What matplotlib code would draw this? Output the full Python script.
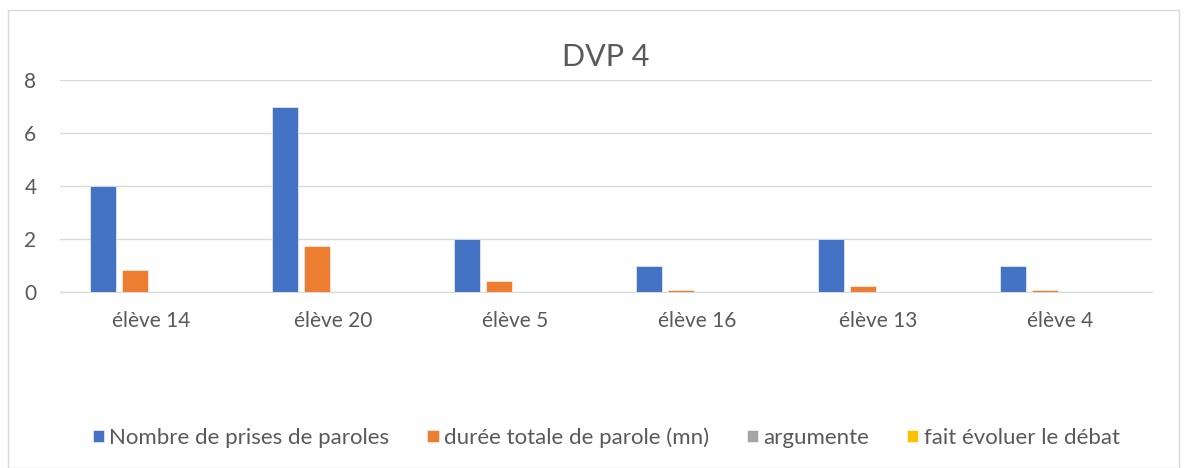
import numpy as np
import matplotlib.pyplot as plt
from matplotlib.patches import Rectangle

# données
eleves = ['élève 14', 'élève 20', 'élève 5', 'élève 16', 'élève 13', 'élève 4']
prises_parole = [4, 7, 2, 1, 2, 1]
duree_parole = [0.83, 1.74, 0.42, 0.08, 0.24, 0.08]
argumente = [0, 0, 0, 0, 0, 0]
fait_evoluer = [0, 0, 0, 0, 0, 0]

series = [
    ('Nombre de prises de paroles', prises_parole, '#4472C4'),
    ('durée totale de parole (mn)', duree_parole, '#ED7D31'),
    ('argumente', argumente, '#A5A5A5'),
    ('fait évoluer le débat', fait_evoluer, '#FFC000'),
]

plt.rcParams['font.family'] = ['Lato', 'DejaVu Sans']
txt = '#595959'

fig = plt.figure(figsize=(11.89, 4.68), dpi=100)
ax = fig.add_axes([0.0505, 0.376, 0.918, 0.453])

x = np.arange(len(eleves))
w = 26 / 182
step = 32 / 182
for i, (nom, vals, col) in enumerate(series):
    ax.bar(x + (i - 1.5) * step, vals, width=w, color=col, label=nom,
           edgecolor='white', linewidth=0.4, zorder=3)

ax.set_xlim(-0.5, len(eleves) - 0.5)
ax.set_ylim(0, 8)
ax.set_yticks([0, 2, 4, 6, 8])
ax.set_xticks(x)
ax.set_xticklabels(eleves)
ax.tick_params(axis='both', length=0, labelsize=15, colors=txt)
ax.tick_params(axis='x', pad=14)
ax.tick_params(axis='y', pad=17)
ax.grid(axis='y', color='#d9d9d9', linewidth=1, zorder=0)
for s in ['top', 'right', 'left']:
    ax.spines[s].set_visible(False)
ax.spines['bottom'].set_color('#d9d9d9')

fig.text(0.509, 0.878, 'DVP 4', ha='center', va='center', fontsize=22, color=txt)

fig.legend(loc='center', bbox_to_anchor=(0.51, 0.065), ncol=4, frameon=False,
           fontsize=16, labelcolor=txt, handlelength=0.5, handleheight=0.5,
           handletextpad=0.25, columnspacing=1.7)

fig.patches.append(Rectangle((0.007, 0.0), 0.985, 0.978, transform=fig.transFigure,
                             fill=False, edgecolor='#d9d9d9', linewidth=1))

fig.savefig('out.png', dpi=100, facecolor='white')
